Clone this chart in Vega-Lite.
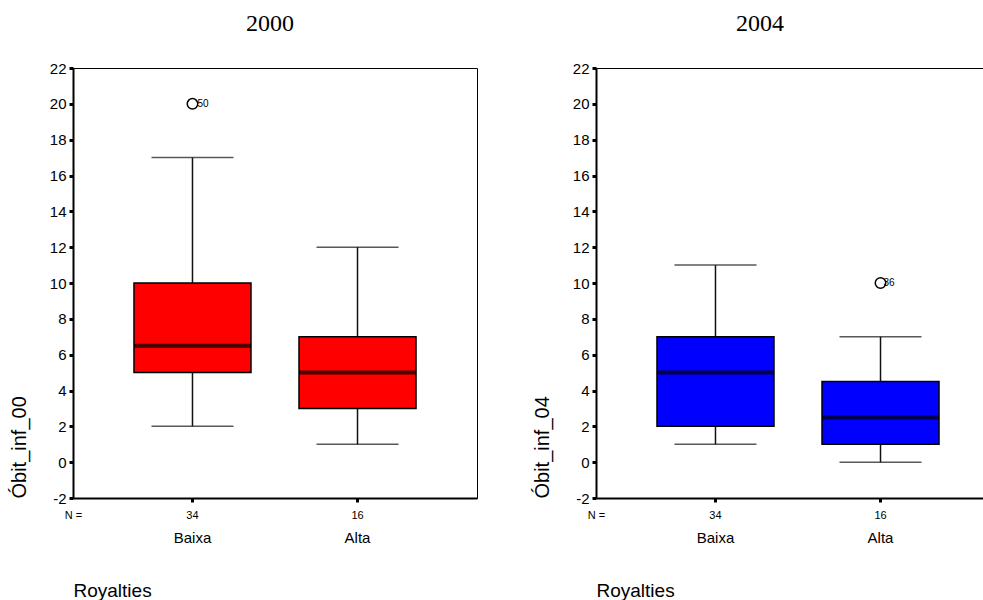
{
 "$schema": "https://vega.github.io/schema/vega-lite/v6.json",
 "padding": {"left": 8, "top": 11, "right": 0, "bottom": 0},
 "background": "white",
 "datasets": {
   "box2000": [
     {"cat": "Baixa", "n": "34", "lo": 2, "q1": 5, "med": 6.5, "q3": 10, "hi": 17},
     {"cat": "Alta", "n": "16", "lo": 1, "q1": 3, "med": 5, "q3": 7, "hi": 12}
   ],
   "out2000": [{"cat": "Baixa", "value": 20, "case": "50"}],
   "box2004": [
     {"cat": "Baixa", "n": "34", "lo": 1, "q1": 2, "med": 5, "q3": 7, "hi": 11},
     {"cat": "Alta", "n": "16", "lo": 0, "q1": 1, "med": 2.5, "q3": 4.5, "hi": 7}
   ],
   "out2004": [{"cat": "Alta", "value": 10, "case": "36"}]
 },
 "spacing": 53,
 "hconcat": [
  {
   "width": 404, "height": 430,
   "title": {"text": "2000", "font": "Liberation Serif", "fontSize": 24, "fontWeight": "normal", "color": "black", "offset": 25, "dx": -5, "anchor": "middle", "frame": "group"},
   "layer": [
    {"data": {"name": "box2000"},
     "mark": {"type": "rule", "stroke": "#111111", "strokeWidth": 1.5},
     "encoding": {
       "x": {"field": "n", "type": "nominal", "sort": null, "scale": {"paddingInner": 0.291, "paddingOuter": 0.3695},
             "axis": {"orient": "bottom", "domainColor": "black", "domainWidth": 2, "tickColor": "black", "tickSize": 4, "tickWidth": 3, "labelFont": "Liberation Sans", "labelFontSize": 11, "labelColor": "black", "labelAngle": 0, "labelPadding": 7, "title": "N =", "titleFont": "Liberation Sans", "titleFontSize": 11, "titleFontWeight": "normal", "titleColor": "black", "titleX": 0, "titleY": 11, "titleAlign": "center", "titleBaseline": "top"}},
       "y": {"field": "lo", "type": "quantitative", "scale": {"domain": [-2, 22], "nice": false, "zero": false},
             "axis": {"orient": "left", "values": [-2, 0, 2, 4, 6, 8, 10, 12, 14, 16, 18, 20, 22], "tickCount": 30, "labelExpr": "toString(datum.value)", "labelOverlap": false, "domainColor": "black", "domainWidth": 2, "tickColor": "black", "tickSize": 4, "tickWidth": 3, "labelFont": "Liberation Sans", "labelFontSize": 15, "labelColor": "black", "labelPadding": 3, "grid": false, "title": "Óbit_inf_00", "titleFont": "Liberation Sans", "titleFontSize": 20, "titleFontWeight": "normal", "titleColor": "black", "titleAnchor": "start", "titlePadding": 20}},
       "y2": {"field": "hi"}
     }},
    {"layer": [
      {"data": {"name": "box2000"},
       "mark": {"type": "tick", "color": "#111111", "size": 82, "thickness": 1.5},
       "encoding": {
         "x": {"field": "cat", "type": "nominal", "scale": {"domain": ["Baixa", "Alta"], "paddingInner": 0.291, "paddingOuter": 0.3695},
               "axis": {"orient": "bottom", "domain": false, "ticks": false, "labelFont": "Liberation Sans", "labelFontSize": 15, "labelColor": "black", "labelAngle": 0, "labelPadding": 32, "title": "Royalties", "titleFont": "Liberation Sans", "titleFontSize": 19, "titleFontWeight": "normal", "titleColor": "black", "titleAnchor": "start", "titleAlign": "left", "titlePadding": 36}},
         "y": {"field": "lo", "type": "quantitative", "title": "Óbit_inf_00"}
       }},
      {"data": {"name": "box2000"},
       "mark": {"type": "tick", "color": "#111111", "size": 82, "thickness": 1.5},
       "encoding": {
         "x": {"field": "cat", "type": "nominal", "title": "Royalties"},
         "y": {"field": "hi", "type": "quantitative", "title": "Óbit_inf_00"}
       }},
      {"data": {"name": "box2000"},
       "mark": {"type": "bar", "fill": "#ff0000", "stroke": "black", "strokeWidth": 1.5},
       "encoding": {
         "x": {"field": "cat", "type": "nominal", "title": "Royalties"},
         "y": {"field": "q1", "type": "quantitative", "title": "Óbit_inf_00"},
         "y2": {"field": "q3"}
       }},
      {"data": {"name": "box2000"},
       "mark": {"type": "tick", "color": "black", "size": 117, "thickness": 4},
       "encoding": {
         "x": {"field": "cat", "type": "nominal", "title": "Royalties"},
         "y": {"field": "med", "type": "quantitative", "title": "Óbit_inf_00"}
       }},
      {"data": {"name": "out2000"},
       "mark": {"type": "point", "shape": "circle", "size": 110, "filled": false, "color": "black", "strokeWidth": 1.5, "opacity": 1},
       "encoding": {
         "x": {"field": "cat", "type": "nominal", "title": "Royalties"},
         "y": {"field": "value", "type": "quantitative", "title": "Óbit_inf_00"}
       }},
      {"data": {"name": "out2000"},
       "mark": {"type": "text", "align": "left", "baseline": "middle", "dx": 5, "font": "Liberation Sans", "fontSize": 10, "color": "black"},
       "encoding": {
         "x": {"field": "cat", "type": "nominal", "title": "Royalties"},
         "y": {"field": "value", "type": "quantitative", "title": "Óbit_inf_00"},
         "text": {"field": "case"}
       }}
    ]}
   ],
   "resolve": {"scale": {"x": "independent"}}
  },
  {
   "width": 404, "height": 430,
   "title": {"text": "2004", "font": "Liberation Serif", "fontSize": 24, "fontWeight": "normal", "color": "black", "offset": 25, "dx": -38, "anchor": "middle", "frame": "group"},
   "layer": [
    {"data": {"name": "box2004"},
     "mark": {"type": "rule", "stroke": "#111111", "strokeWidth": 1.5},
     "encoding": {
       "x": {"field": "n", "type": "nominal", "sort": null, "scale": {"paddingInner": 0.291, "paddingOuter": 0.3695},
             "axis": {"orient": "bottom", "domainColor": "black", "domainWidth": 2, "tickColor": "black", "tickSize": 4, "tickWidth": 3, "labelFont": "Liberation Sans", "labelFontSize": 11, "labelColor": "black", "labelAngle": 0, "labelPadding": 7, "title": "N =", "titleFont": "Liberation Sans", "titleFontSize": 11, "titleFontWeight": "normal", "titleColor": "black", "titleX": 0, "titleY": 11, "titleAlign": "center", "titleBaseline": "top"}},
       "y": {"field": "lo", "type": "quantitative", "scale": {"domain": [-2, 22], "nice": false, "zero": false},
             "axis": {"orient": "left", "values": [-2, 0, 2, 4, 6, 8, 10, 12, 14, 16, 18, 20, 22], "tickCount": 30, "labelExpr": "toString(datum.value)", "labelOverlap": false, "domainColor": "black", "domainWidth": 2, "tickColor": "black", "tickSize": 4, "tickWidth": 3, "labelFont": "Liberation Sans", "labelFontSize": 15, "labelColor": "black", "labelPadding": 3, "grid": false, "title": "Óbit_inf_04", "titleFont": "Liberation Sans", "titleFontSize": 20, "titleFontWeight": "normal", "titleColor": "black", "titleAnchor": "start", "titlePadding": 20}},
       "y2": {"field": "hi"}
     }},
    {"layer": [
      {"data": {"name": "box2004"},
       "mark": {"type": "tick", "color": "#111111", "size": 82, "thickness": 1.5},
       "encoding": {
         "x": {"field": "cat", "type": "nominal", "scale": {"domain": ["Baixa", "Alta"], "paddingInner": 0.291, "paddingOuter": 0.3695},
               "axis": {"orient": "bottom", "domain": false, "ticks": false, "labelFont": "Liberation Sans", "labelFontSize": 15, "labelColor": "black", "labelAngle": 0, "labelPadding": 32, "title": "Royalties", "titleFont": "Liberation Sans", "titleFontSize": 19, "titleFontWeight": "normal", "titleColor": "black", "titleAnchor": "start", "titleAlign": "left", "titlePadding": 36}},
         "y": {"field": "lo", "type": "quantitative", "title": "Óbit_inf_04"}
       }},
      {"data": {"name": "box2004"},
       "mark": {"type": "tick", "color": "#111111", "size": 82, "thickness": 1.5},
       "encoding": {
         "x": {"field": "cat", "type": "nominal", "title": "Royalties"},
         "y": {"field": "hi", "type": "quantitative", "title": "Óbit_inf_04"}
       }},
      {"data": {"name": "box2004"},
       "mark": {"type": "bar", "fill": "#0000ff", "stroke": "black", "strokeWidth": 1.5},
       "encoding": {
         "x": {"field": "cat", "type": "nominal", "title": "Royalties"},
         "y": {"field": "q1", "type": "quantitative", "title": "Óbit_inf_04"},
         "y2": {"field": "q3"}
       }},
      {"data": {"name": "box2004"},
       "mark": {"type": "tick", "color": "black", "size": 117, "thickness": 4},
       "encoding": {
         "x": {"field": "cat", "type": "nominal", "title": "Royalties"},
         "y": {"field": "med", "type": "quantitative", "title": "Óbit_inf_04"}
       }},
      {"data": {"name": "out2004"},
       "mark": {"type": "point", "shape": "circle", "size": 110, "filled": false, "color": "black", "strokeWidth": 1.5, "opacity": 1},
       "encoding": {
         "x": {"field": "cat", "type": "nominal", "title": "Royalties"},
         "y": {"field": "value", "type": "quantitative", "title": "Óbit_inf_04"}
       }},
      {"data": {"name": "out2004"},
       "mark": {"type": "text", "align": "left", "baseline": "middle", "dx": 3, "font": "Liberation Sans", "fontSize": 10, "color": "black"},
       "encoding": {
         "x": {"field": "cat", "type": "nominal", "title": "Royalties"},
         "y": {"field": "value", "type": "quantitative", "title": "Óbit_inf_04"},
         "text": {"field": "case"}
       }}
    ]}
   ],
   "resolve": {"scale": {"x": "independent"}}
  }
 ],
 "config": {"view": {"stroke": "black", "strokeWidth": 1}, "axis": {"grid": false}}
}
